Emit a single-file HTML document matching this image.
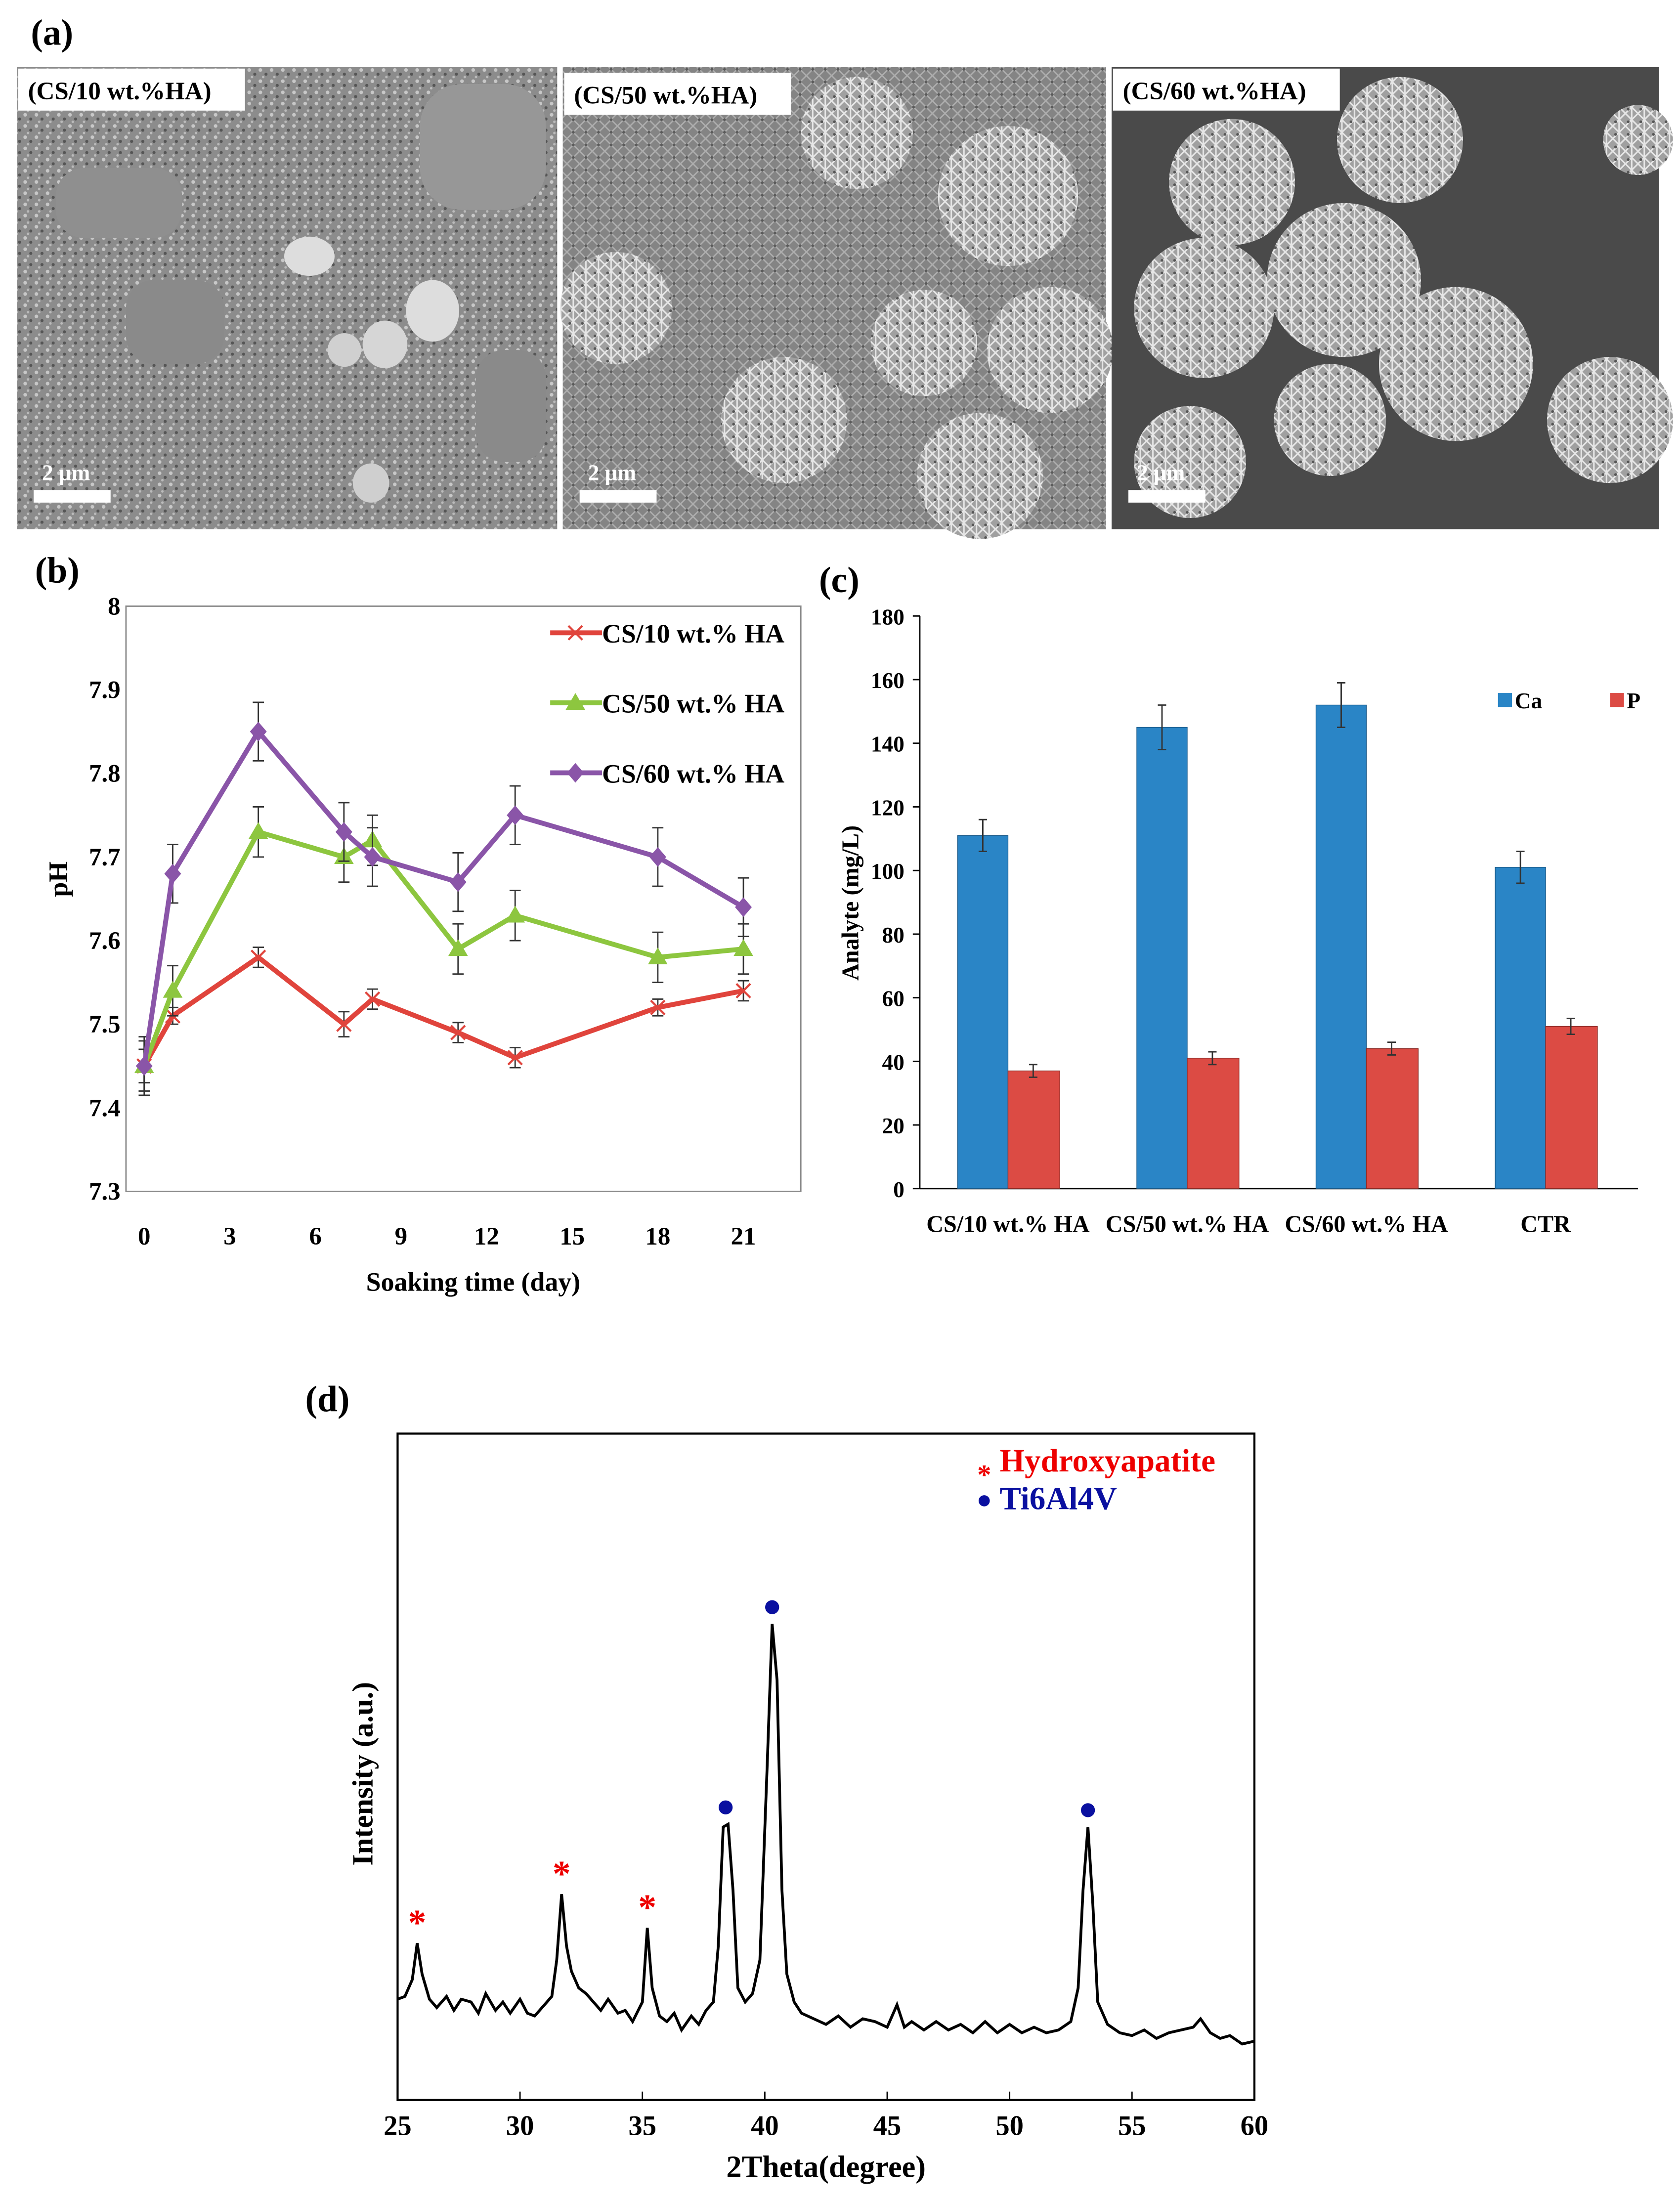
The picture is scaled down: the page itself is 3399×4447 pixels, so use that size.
<!DOCTYPE html>
<html><head><meta charset="utf-8">
<style>
html,body{margin:0;padding:0;background:#fff;}
svg{display:block;}
text{font-family:"Liberation Serif",serif;font-weight:bold;}
</style></head>
<body>
<svg id="fig" width="3399" height="4447" viewBox="0 0 1200 1570" preserveAspectRatio="none" xmlns="http://www.w3.org/2000/svg">
<defs>
<pattern id="tex1" width="8" height="8" patternUnits="userSpaceOnUse"><rect width="8" height="8" fill="#8c8c8c"/><circle cx="2" cy="2" r="1.3" fill="#c8c8c8"/><circle cx="6" cy="5" r="1.1" fill="#555"/><circle cx="4" cy="7" r="0.9" fill="#bbb"/></pattern>
<pattern id="tex2" width="9" height="9" patternUnits="userSpaceOnUse"><rect width="9" height="9" fill="#8a8a8a"/><path d="M0 0L9 9M9 0L0 9" stroke="#d0d0d0" stroke-width="1"/><circle cx="4.5" cy="4.5" r="1" fill="#444"/></pattern>
<pattern id="tex3" width="9" height="9" patternUnits="userSpaceOnUse"><rect width="9" height="9" fill="#a0a0a0"/><path d="M0 0L9 9M9 0L0 9M4.5 0V9" stroke="#e6e6e6" stroke-width="1.1"/><circle cx="2" cy="6" r="1" fill="#555"/></pattern>
</defs>
<text x="22" y="32" font-size="26">(a)</text>
<g>
<rect x="12" y="48" width="386" height="330" fill="url(#tex1)"/>
<rect x="40" y="120" width="90" height="50" rx="20" fill="#8f8f8f"/><rect x="300" y="60" width="90" height="90" rx="30" fill="#979797"/>
<rect x="90" y="200" width="70" height="60" rx="20" fill="#8a8a8a"/><rect x="340" y="250" width="50" height="80" rx="20" fill="#8a8a8a"/>
<ellipse cx="221" cy="183" rx="18" ry="14" fill="#ddd"/><ellipse cx="309" cy="222" rx="19" ry="22" fill="#ddd"/><ellipse cx="275" cy="246" rx="16" ry="17" fill="#d6d6d6"/><ellipse cx="246" cy="250" rx="12" ry="12" fill="#d0d0d0"/><ellipse cx="265" cy="345" rx="13" ry="14" fill="#cfcfcf"/>
<rect x="13" y="49" width="162" height="30" fill="#fff"/><text x="20" y="71" font-size="18">(CS/10 wt.%HA)</text>
<rect x="24" y="350" width="55" height="9" fill="#fff"/><text x="30" y="343" font-size="16" fill="#fff">2 μm</text>
</g>
<g>
<rect x="402" y="48" width="388" height="330" fill="#7a7a7a"/>
<rect x="402" y="48" width="388" height="330" fill="url(#tex2)" opacity="0.6"/>
<circle cx="612" cy="95" r="40" fill="url(#tex3)"/><circle cx="660" cy="245" r="38" fill="url(#tex3)"/><circle cx="720" cy="140" r="50" fill="url(#tex3)"/><circle cx="750" cy="250" r="45" fill="url(#tex3)"/><circle cx="560" cy="300" r="45" fill="url(#tex3)"/><circle cx="440" cy="220" r="40" fill="url(#tex3)"/><circle cx="700" cy="340" r="45" fill="url(#tex3)"/>
<rect x="403" y="52" width="162" height="30" fill="#fff"/><text x="410" y="74" font-size="18">(CS/50 wt.%HA)</text>
<rect x="414" y="350" width="55" height="9" fill="#fff"/><text x="420" y="343" font-size="16" fill="#fff">2 μm</text>
</g>
<g>
<rect x="794" y="48" width="391" height="330" fill="#4a4a4a"/>
<circle cx="880" cy="130" r="45" fill="url(#tex3)"/><circle cx="1000" cy="100" r="45" fill="url(#tex3)"/><circle cx="860" cy="220" r="50" fill="url(#tex3)"/><circle cx="960" cy="200" r="55" fill="url(#tex3)"/><circle cx="1040" cy="260" r="55" fill="url(#tex3)"/><circle cx="950" cy="300" r="40" fill="url(#tex3)"/><circle cx="1150" cy="300" r="45" fill="url(#tex3)"/><circle cx="1170" cy="100" r="25" fill="url(#tex3)"/><circle cx="850" cy="330" r="40" fill="url(#tex3)"/>
<rect x="795" y="49" width="162" height="30" fill="#fff"/><text x="802" y="71" font-size="18">(CS/60 wt.%HA)</text>
<rect x="806" y="350" width="55" height="9" fill="#fff"/><text x="812" y="343" font-size="16" fill="#fff">2 μm</text>
</g>
<text x="25" y="416" font-size="26">(b)</text>
<text x="585" y="423" font-size="26">(c)</text>
<text x="218" y="1008" font-size="26">(d)</text>
<g id="pb"></g>
<g id="pc"></g>
<g id="pd"></g>
</svg>
<script>
const NS="http://www.w3.org/2000/svg";
function mk(p,tag,attrs,txt){const e=document.createElementNS(NS,tag);for(const k in attrs)e.setAttribute(k,attrs[k]);if(txt!==undefined)e.textContent=txt;p.appendChild(e);return e;}

// ---- Panel b data ----
const days=[0,1,4,7,8,11,13,18,21];
const ph10=[7.45,7.51,7.58,7.50,7.53,7.49,7.46,7.52,7.54];
const ph50=[7.45,7.54,7.73,7.70,7.72,7.59,7.63,7.58,7.59];
const ph60=[7.45,7.68,7.85,7.73,7.70,7.67,7.75,7.70,7.64];
const err10=[0.02,0.01,0.012,0.015,0.012,0.012,0.012,0.01,0.012];
const err50=[0.03,0.03,0.03,0.03,0.03,0.03,0.03,0.03,0.03];
const err60=[0.035,0.035,0.035,0.035,0.035,0.035,0.035,0.035,0.035];
const phTicks=[7.3,7.4,7.5,7.6,7.7,7.8,7.9,8];
const dayTicks=[0,3,6,9,12,15,18,21];
const seriesB=[
 {name:"CS/10 wt.% HA",v:ph10,e:err10,c:"#e0443c",m:"x"},
 {name:"CS/50 wt.% HA",v:ph50,e:err50,c:"#8dc63f",m:"tri"},
 {name:"CS/60 wt.% HA",v:ph60,e:err60,c:"#8a55a8",m:"dia"}];
(function(){
 const g=document.getElementById('pb');
 const bx=d=>103+d*(531-103)/21, by=v=>851-(v-7.3)*(851-433)/0.7;
 mk(g,'rect',{x:90,y:433,width:482,height:418,fill:'none',stroke:'#888','stroke-width':1});
 phTicks.forEach(t=>{const l=mk(g,'text',{x:86,y:by(t)+6,'font-size':18,'text-anchor':'end'},String(t));
 
 });
 dayTicks.forEach(t=>{const l=mk(g,'text',{x:bx(t),y:889,'font-size':18,'text-anchor':'middle'},String(t));
 
 });
 const yt=mk(g,'text',{x:0,y:0,'font-size':19,'text-anchor':'middle',transform:'translate(48,628) rotate(-90)'},'pH');
 
 
 const xt=mk(g,'text',{x:338,y:922,'font-size':19,'text-anchor':'middle'},'Soaking time (day)');
 
 
 function marker(p,m,x,y,c){
  if(m==='x'){mk(p,'path',{d:`M${x-5} ${y-5}L${x+5} ${y+5}M${x+5} ${y-5}L${x-5} ${y+5}`,stroke:c,'stroke-width':1.5});}
  else if(m==='tri'){mk(p,'path',{d:`M${x} ${y-7}L${x+7} ${y+5}L${x-7} ${y+5}Z`,fill:c});}
  else {mk(p,'path',{d:`M${x} ${y-7}L${x+6} ${y}L${x} ${y+7}L${x-6} ${y}Z`,fill:c});}
 }
 seriesB.forEach((s,si)=>{
  const sg=mk(g,'g',{});
  
  
  s.v.forEach((v,i)=>{const x=bx(days[i]);mk(sg,'path',{d:`M${x} ${by(v+s.e[i])}V${by(v-s.e[i])}M${x-4} ${by(v+s.e[i])}H${x+4}M${x-4} ${by(v-s.e[i])}H${x+4}`,stroke:'#333','stroke-width':1});});
  mk(sg,'polyline',{points:s.v.map((v,i)=>bx(days[i])+','+by(v)).join(' '),fill:'none',stroke:s.c,'stroke-width':3.5});
  s.v.forEach((v,i)=>marker(sg,s.m,bx(days[i]),by(v),s.c));
  const ly=452+si*50;
  const lg=mk(g,'g',{});
  
  
  mk(lg,'line',{x1:393,y1:ly,x2:430,y2:ly,stroke:s.c,'stroke-width':3.5});
  marker(lg,s.m,411,ly,s.c);
  mk(lg,'text',{x:430,y:ly+7,'font-size':19},s.name);
 });
})();

// ---- Panel c data ----
const groups=["CS/10 wt.% HA","CS/50 wt.% HA","CS/60 wt.% HA","CTR"];
const caVals=[111,145,152,101];
const pVals=[37,41,44,51];
const caErr=[5,7,7,5];
const pErr=[2,2,2,2.5];
const cTicks=[0,20,40,60,80,100,120,140,160,180];
(function(){
 const g=document.getElementById('pc');
 const y0=849, yv=v=>y0-v*(849-440)/180;
 const cx=i=>720+i*128;
 mk(g,'line',{x1:657,y1:440,x2:657,y2:849,stroke:'#000','stroke-width':1});
 mk(g,'line',{x1:657,y1:849,x2:1170,y2:849,stroke:'#000','stroke-width':1});
 cTicks.forEach(t=>{mk(g,'line',{x1:652,y1:yv(t),x2:657,y2:yv(t),stroke:'#000'});
  const l=mk(g,'text',{x:646,y:yv(t)+6,'font-size':16,'text-anchor':'end'},String(t));
  
  });
 const yt=mk(g,'text',{x:0,y:0,'font-size':17,'text-anchor':'middle',transform:'translate(613,645) rotate(-90)'},'Analyte (mg/L)');
 
 
 groups.forEach((n,i)=>{
  const ca=mk(g,'rect',{x:cx(i)-36,y:yv(caVals[i]),width:36,height:y0-yv(caVals[i]),fill:'#2a85c6',stroke:'#1a5a8a','stroke-width':0.5});
  
  
  const p=mk(g,'rect',{x:cx(i),y:yv(pVals[i]),width:37,height:y0-yv(pVals[i]),fill:'#dc4b44',stroke:'#8a2a25','stroke-width':0.5});
  
  
  [[cx(i)-18,caVals[i],caErr[i]],[cx(i)+18,pVals[i],pErr[i]]].forEach(a=>{mk(g,'path',{d:`M${a[0]} ${yv(a[1]+a[2])}V${yv(a[1]-a[2])}M${a[0]-3} ${yv(a[1]+a[2])}H${a[0]+3}M${a[0]-3} ${yv(a[1]-a[2])}H${a[0]+3}`,stroke:'#333','stroke-width':1});});
  const l=mk(g,'text',{x:cx(i),y:880,'font-size':17,'text-anchor':'middle'},n);
  
  
 });
 const l1=mk(g,'g',{});
 mk(l1,'rect',{x:1070,y:495,width:10,height:10,fill:'#2a85c6'});mk(l1,'text',{x:1082,y:506,'font-size':16},'Ca');
 const l2=mk(g,'g',{});
 mk(l2,'rect',{x:1150,y:495,width:10,height:10,fill:'#dc4b44'});mk(l2,'text',{x:1162,y:506,'font-size':16},'P');
})();

// ---- Panel d data ----
const twoTheta=[25.0,25.3,25.6,25.8,26.0,26.3,26.6,27.0,27.3,27.6,28.0,28.3,28.6,29.0,29.3,29.6,30.0,30.3,30.6,31.0,31.3,31.5,31.7,31.9,32.1,32.4,32.7,33.0,33.3,33.6,34.0,34.3,34.6,35.0,35.2,35.4,35.7,36.0,36.3,36.6,37.0,37.3,37.6,37.9,38.1,38.3,38.5,38.7,38.9,39.2,39.5,39.8,40.1,40.3,40.5,40.7,40.9,41.2,41.5,42.0,42.5,43.0,43.5,44.0,44.5,45.0,45.4,45.7,46.0,46.5,47.0,47.5,48.0,48.5,49.0,49.5,50.0,50.5,51.0,51.5,52.0,52.5,52.8,53.0,53.2,53.4,53.6,54.0,54.5,55.0,55.5,56.0,56.5,57.0,57.5,57.8,58.2,58.6,59.0,59.5,60.0];
const intensity=[72,74,86,112,90,72,66,74,64,72,70,62,76,64,70,62,72,62,60,68,74,100,147,110,92,80,76,70,64,72,62,64,56,70,123,80,60,56,62,50,60,54,64,70,110,195,197,150,80,70,76,100,240,340,300,150,90,70,62,58,54,60,52,58,56,52,68,52,56,50,56,50,54,48,56,48,54,48,52,48,50,56,80,150,195,140,70,54,48,46,50,44,48,50,52,58,48,44,46,40,42];
const xrdTicks=[25,30,35,40,45,50,55,60];
const haPeaks=[25.8,31.7,35.2];
const haInt=[112,147,123];
const tiPeaks=[38.4,40.3,53.2];
const tiInt=[197,340,195];
(function(){
 const g=document.getElementById('pd');
 const X=t=>284+(t-25)*(896-284)/35, Y=v=>1500-v;
 mk(g,'rect',{x:284,y:1024,width:612,height:476,fill:'none',stroke:'#000','stroke-width':1.5});
 xrdTicks.forEach(t=>{mk(g,'line',{x1:X(t),y1:1500,x2:X(t),y2:1494,stroke:'#000'});
  const l=mk(g,'text',{x:X(t),y:1525,'font-size':20,'text-anchor':'middle'},String(t));
  
  });
 const line=mk(g,'polyline',{points:twoTheta.map((t,i)=>X(t)+','+Y(intensity[i])).join(' '),fill:'none',stroke:'#000','stroke-width':2});
 
 
 haPeaks.forEach((t,i)=>{const s=mk(g,'text',{x:X(t),y:Y(haInt[i])-6,'font-size':26,fill:'#e00','text-anchor':'middle'},'*');
  
  });
 tiPeaks.forEach((t,i)=>{const c=mk(g,'circle',{cx:X(t),cy:Y(tiInt[i])-12,r:5,fill:'#0a10a0'});
  
  });
 const yt=mk(g,'text',{x:0,y:0,'font-size':21,'text-anchor':'middle',transform:'translate(266,1267) rotate(-90)'},'Intensity (a.u.)');
 
 
 const xt=mk(g,'text',{x:590,y:1555,'font-size':22,'text-anchor':'middle'},'2Theta(degree)');
 
 
 const l1=mk(g,'g',{});
 mk(l1,'text',{x:703,y:1060,'font-size':20,fill:'#e00','text-anchor':'middle'},'*');
 mk(l1,'text',{x:714,y:1051,'font-size':23,fill:'#e00'},'Hydroxyapatite');
 const l2=mk(g,'g',{});
 mk(l2,'circle',{cx:703,cy:1072,r:4,fill:'#0a10a0'});
 mk(l2,'text',{x:714,y:1078,'font-size':23,fill:'#0a10a0'},'Ti6Al4V');
})();
</script>
</body></html>
